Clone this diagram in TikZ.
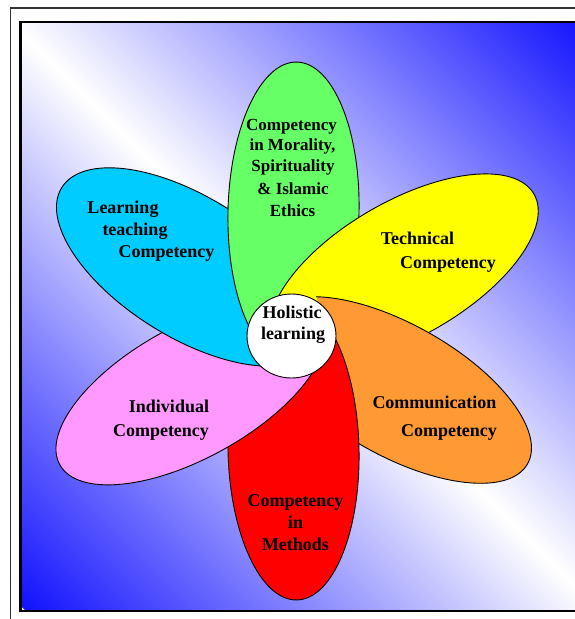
\documentclass[tikz,border=0pt]{standalone}
\usepackage{fontspec}
\setmainfont{Liberation Serif}
\usetikzlibrary{shapes.geometric}
\definecolor{bgblue}{RGB}{18,18,255}
\definecolor{petalgreen}{RGB}{102,255,102}
\definecolor{petalyellow}{RGB}{255,255,0}
\definecolor{petalorange}{RGB}{255,153,51}
\definecolor{petalred}{RGB}{255,0,0}
\definecolor{petalpink}{RGB}{255,153,255}
\definecolor{petalcyan}{RGB}{0,204,255}
\begin{document}
\begin{tikzpicture}[x=1pt,y=-1pt,
  petal/.style={draw=black, line width=0.9pt},
  lbl/.style={font=\bfseries\fontsize{18}{21}\selectfont, inner sep=0pt, anchor=mid, text=black},
  lblsmall/.style={lbl, font=\bfseries\fontsize{17}{20}\selectfont},
  hubstyle/.style={ellipse, draw=black, line width=0.9pt, fill=white,
    minimum width=89pt, minimum height=84pt, inner sep=0pt}]
\useasboundingbox (0,0) rectangle (574,619);

% petal outlines as reusable paths
\def\greenpetal{[rotate around={88.7:(293.5,212)}] (293.5,212) ellipse [x radius=150, y radius=65.5]}
\def\yellowpetal{[rotate around={30:(404,269)}] (404,269) ellipse [x radius=150, y radius=67.5]}
\def\orangepetal{[rotate around={-29.5:(397,390)}] (397,390) ellipse [x radius=150, y radius=65.5]}
\def\redpetal{[rotate around={-88.7:(293.5,450)}] (293.5,450) ellipse [x radius=150, y radius=65.5]}
\def\pinkpetal{[rotate around={29:(191,392)}] (191,392) ellipse [x radius=150, y radius=66]}
\def\cyanpetal{[rotate around={-32:(189,267)}] (189,267) ellipse [x radius=150, y radius=70]}
% slightly grown outlines, used as clip regions so no seam shows
\def\greenclip{[rotate around={88.7:(293.5,212)}] (293.5,212) ellipse [x radius=151.5, y radius=67]}
\def\cyanclip{[rotate around={-32:(189,267)}] (189,267) ellipse [x radius=152, y radius=72]}

% outer frame
\draw[black!80, line width=1.3pt] (10.8,8) rectangle (600,650);

% inner panel: blue in two opposite corners, white along the other diagonal
\begin{scope}
  \clip (20.5,22) rectangle (590,611);
  \begin{scope}[transform canvas={rotate around={45:(305,316)}}]
    \shade[left color=bgblue, right color=bgblue, middle color=white]
      (-101,-104) rectangle (711,736);
  \end{scope}
\end{scope}
\draw[black, line width=2.4pt] (20.5,22) rectangle (590,611);

% petals, each lying over its clockwise neighbour
\path[petal, fill=petalgreen] \greenpetal;
\path[petal, fill=petalyellow] \yellowpetal;
\path[petal, fill=petalorange] \orangepetal;
\path[petal, fill=petalred] \redpetal;
\path[petal, fill=petalpink] \pinkpetal;
\path[petal, fill=petalcyan] \cyanpetal;
% close the ring: green over cyan, yellow still over green
\begin{scope}
  \clip \cyanclip;
  \path[petal, fill=petalgreen] \greenpetal;
  \clip \greenclip;
  \path[petal, fill=petalyellow] \yellowpetal;
\end{scope}

% hub
\node[hubstyle] (hub) at (291.5,336) {};
\node[lbl] (hubA) at (292,316) {Holistic};
\node[lbl] (hubB) at (293,337) {learning};

% petal labels
\node[lblsmall] (gA) at (291.5,128) {Competency};
\node[lblsmall] (gB) at (292.5,148) {in Morality,};
\node[lblsmall] (gC) at (293,169.5) {Spirituality};
\node[lblsmall] (gD) at (293,192.5) {\& Islamic};
\node[lblsmall] (gE) at (292.5,214) {Ethics};

\node[lbl] (yA) at (417.5,242) {Technical};
\node[lbl] (yB) at (448,266) {Competency};

\node[lbl] (oA) at (434.5,406) {Communication};
\node[lbl] (oB) at (449,434) {Competency};

\node[lbl] (rA) at (295.5,504) {Competency};
\node[lbl] (rB) at (295.5,526) {in};
\node[lbl] (rC) at (295.5,548) {Methods};

\node[lbl] (pA) at (169,410) {Individual};
\node[lbl] (pB) at (161,434) {Competency};

\node[lbl] (cA) at (123,211) {Learning};
\node[lbl] (cB) at (135,233) {teaching};
\node[lbl] (cC) at (166.5,255) {Competency};
\end{tikzpicture}
\end{document}
